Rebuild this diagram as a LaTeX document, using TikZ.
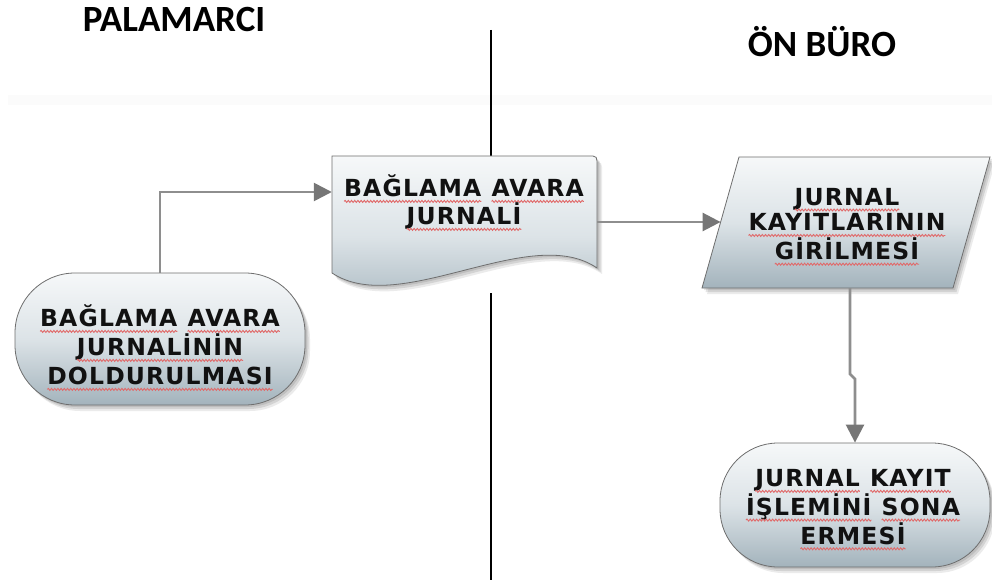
\documentclass[tikz,border=0pt]{standalone}
\usepackage{fontspec}
\usetikzlibrary{arrows.meta,shadows,decorations.pathmorphing}

\newfontfamily\titlefont{Carlito}
\newfontfamily\boxfont[LetterSpace=5]{DejaVu Sans}

\definecolor{shapetop}{HTML}{F6F8F9}
\definecolor{shapemid}{HTML}{DCE3E7}
\definecolor{shapebot}{HTML}{A3B3BC}
\definecolor{edgegray}{HTML}{6E6E6E}
\definecolor{linegray}{HTML}{8E8E8E}
\definecolor{tipgray}{HTML}{767676}
\definecolor{textdark}{HTML}{111111}
\definecolor{spellred}{HTML}{E06A6A}

% word with a wavy spell-check underline
\newcommand{\wavyword}[1]{\tikz[baseline=(w.base)]{%
  \node[inner sep=0pt,outer sep=0pt] (w) {#1};
  \draw[spellred,line width=0.9pt,decorate,
        decoration={snake,amplitude=1pt,segment length=3.2pt}]
    ([yshift=-4.5pt]w.base west) -- ([yshift=-4.5pt]w.base east);}}

\tikzset{
  softshadow/.style={
    drop shadow={shadow xshift=2pt,shadow yshift=-2pt,opacity=0.10,fill=black},
    drop shadow={shadow xshift=3.5pt,shadow yshift=-4pt,opacity=0.10,fill=black},
    drop shadow={shadow xshift=5pt,shadow yshift=-6pt,opacity=0.08,fill=black}},
  flowshape/.style={draw=edgegray,line width=0.8pt,
    top color=shapetop,bottom color=shapebot,middle color=shapemid,softshadow},
  terminal/.style={flowshape,rectangle,rounded corners=60pt,inner sep=0pt},
  boxtext/.style={font=\boxfont\bfseries\fontsize{23.5}{#1}\selectfont,
    text=textdark,align=center,inner sep=0pt},
  boxtext/.default=27,
  flowarrow/.style={draw=linegray,line width=2.6pt,
    -{Triangle[length=18pt,width=18pt,color=tipgray]}},
  lanerule/.style={black,line width=1.6pt},
  lanetitle/.style={font=\titlefont\bfseries\fontsize{37}{42}\selectfont,
    text=black,anchor=base,inner sep=0pt}
}

\begin{document}
\begin{tikzpicture}[x=1pt,y=-1pt]
  \useasboundingbox (0,0) rectangle (992,588);

  % faint band behind the lanes
  \fill[black,opacity=0.015] (8,95) rectangle (992,105);

  % lane titles
  \node[lanetitle] (lanepal) at (174,32) {PALAMARCI};
  \node[lanetitle] (laneon) at (822,57) {ÖN BÜRO};

  % lane divider
  \draw[lanerule] (491,30) -- (491,156);
  \draw[lanerule] (491,293) -- (491,580);

  % start: filling in the log
  \node[terminal,minimum width=290pt,minimum height=132pt] (lt) at (160,339) {};
  \node[boxtext=29] (lttext) at (160,348)
    {\wavyword{BAĞLAMA} \wavyword{AVARA}\\\wavyword{JURNALİNİN}\\\wavyword{DOLDURULMASI}};

  % document: the log itself
  \node[minimum width=265pt,minimum height=112pt,inner sep=0pt] (doc) at (464.5,212) {};
  \path[flowshape] (332,156) -- (593,156) .. controls (596,156) and (597,158) .. (597,161)
    -- (597,268) .. controls (530,222) and (400,318) .. (332,273) -- cycle;
  \node[boxtext=28] (doctext) at (464,203) {\wavyword{BAĞLAMA} \wavyword{AVARA}\\\wavyword{JURNALİ}};

  % data entry (parallelogram)
  \path[flowshape] (702,288) -- (739,157) -- (990,157) -- (953,288) -- cycle;
  \coordinate (parin) at (720.6,222);
  \coordinate (parout) at (850,288);
  \node[boxtext=25.5] (partext) at (847,227)
    {\wavyword{JURNAL}\\\wavyword{KAYITLARININ}\\\wavyword{GİRİLMESİ}};

  % end terminal
  \node[terminal,minimum width=270pt,minimum height=124pt,rounded corners=58pt] (bt) at (855,505) {};
  \node[boxtext=26.5] (bttext) at (853,510)
    {\wavyword{JURNAL} \wavyword{KAYIT}\\\wavyword{İŞLEMİNİ} \wavyword{SONA}\\\wavyword{ERMESİ}};

  % connectors
  \draw[flowarrow] (lt.north) |- ([yshift=20pt]doc.west);
  \draw[flowarrow] ([yshift=-10pt]doc.east) -- (parin);
  \draw[flowarrow] (parout) -- ++(0,86) -- ++(5,5) -- (bt.north);
\end{tikzpicture}
\end{document}
